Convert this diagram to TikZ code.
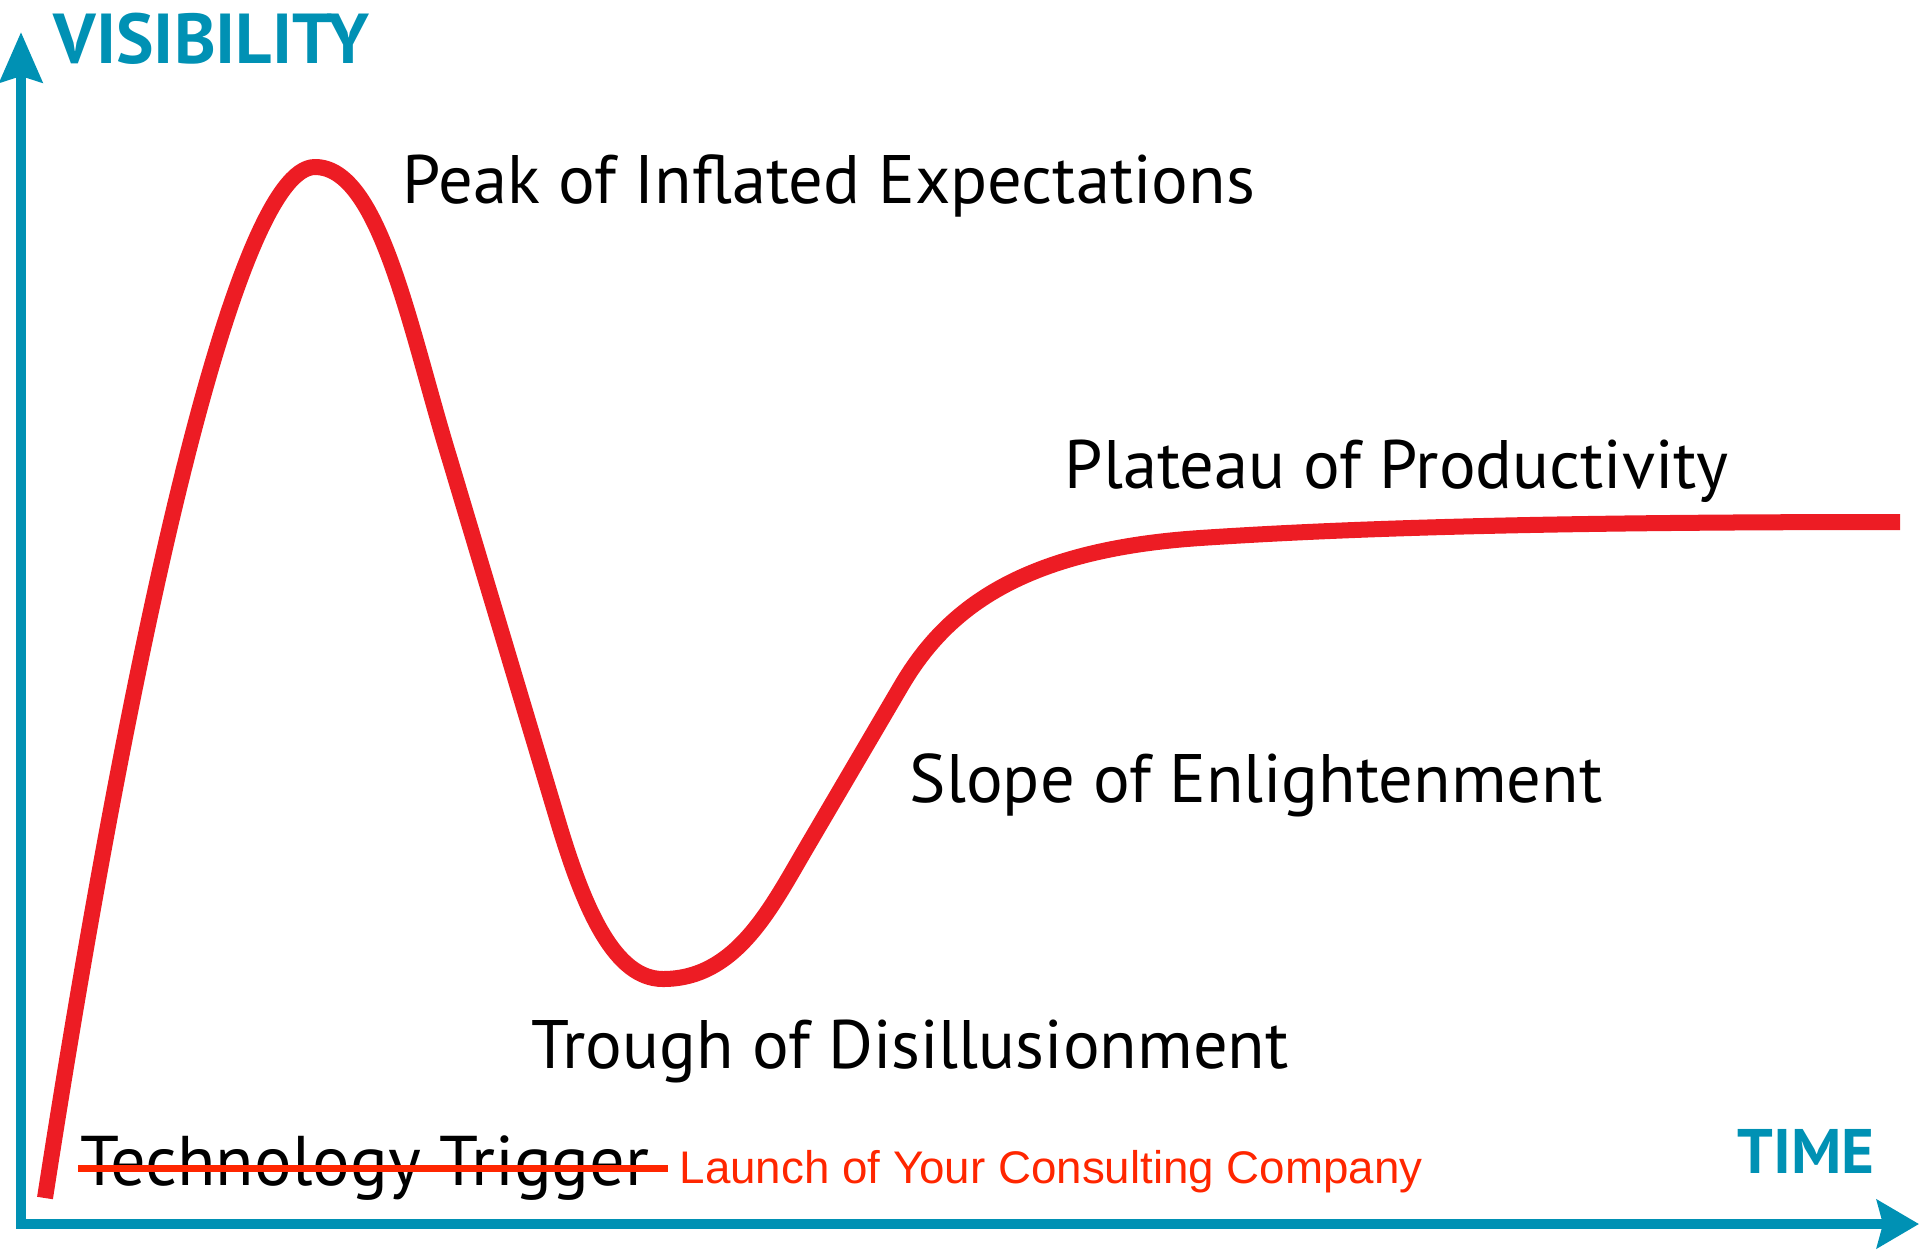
\documentclass[tikz,border=0pt]{standalone}
\usepackage{fontspec}
\setmainfont{PT Sans}
\newfontfamily\arialfont{Liberation Sans}
\usepackage{xcolor}
\usepackage{tikz}
\usetikzlibrary{positioning,arrows.meta}
\definecolor{azulEje}{RGB}{0,145,180}
\definecolor{rojoCurva}{RGB}{237,28,36}
\definecolor{rojoLanz}{RGB}{255,38,0}

\begin{document}
\begin{tikzpicture}[x=0.01cm, y=-0.01cm,
  eje/.style={draw=azulEje, line width=0.1cm, line join=miter},
  curva/.style={draw=rojoCurva, line width=0.16cm, line join=round},
  etiqueta/.style={inner sep=0pt, anchor=base west, font=\fontsize{19.5pt}{24pt}\selectfont},
  titulo/.style={inner sep=0pt, anchor=base west, text=azulEje, font=\bfseries},
  tachado/.style={draw=rojoLanz, line width=0.07cm}]
\useasboundingbox (0,0) rectangle (1920,1250);
% ejes
\coordinate (ytop) at (21,32);
\coordinate (origen) at (21,1224);
\coordinate (xfin) at (1919,1224);
\draw[eje, {Stealth[length=5mm, width=4.2mm, inset=0.6mm]}-{Stealth[length=4.2mm, width=4.8mm, inset=0.6mm]}]
  (ytop) -- (origen) -- (xfin);
\node[titulo, font=\bfseries\fontsize{20.1pt}{22pt}\selectfont] (visib) at (53,63) {VISIBILITY};
\node[titulo, font=\bfseries\fontsize{17.9pt}{20pt}\selectfont] (tiempo) at (1737,1173) {TIME};
% curva
\draw[curva] (45,1198) .. controls (130,650) and (235,167) .. (315,167)
  .. controls (380,167) and (410,330) .. (450,460) -- (560,828)
  .. controls (585,910) and (615,979) .. (663,979)
  .. controls (735,979) and (770,910) .. (805,850) -- (900,688)
  .. controls (945,610) and (1020,550) .. (1200,538)
  .. controls (1380,526) and (1600,522) .. (1900,522);
% fases
\node[etiqueta] (pico) at (402,203) {Peak of Inflated Expectations};
\node[etiqueta] (meseta) at (1064,488) {Plateau of Productivity};
\node[etiqueta] (pendiente) at (909,802) {Slope of Enlightenment};
\node[etiqueta] (valle) at (531,1068) {Trough of Disillusionment};
\node[etiqueta, font=\fontsize{20pt}{24pt}\selectfont] (disparo) at (80,1185) {Technology Trigger};
\draw[tachado] ([shift={(-2,-17)}]disparo.base west) -- ([shift={(18,-17)}]disparo.base east);
\node[inner sep=0pt, anchor=base west, text=rojoLanz, font=\arialfont\fontsize{13pt}{15pt}\selectfont]
  (lanzamiento) at (679,1183) {Launch of Your Consulting Company};
\end{tikzpicture}
\end{document}
